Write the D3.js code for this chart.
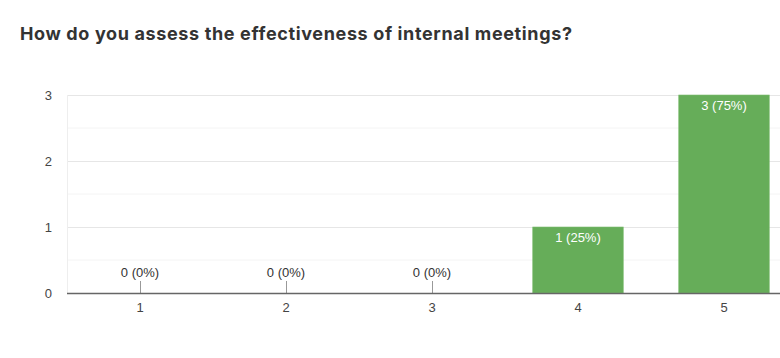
<!DOCTYPE html>
<html><head><meta charset="utf-8">
<script src="https://cdn.jsdelivr.net/npm/d3@7"></script>
<style>body{margin:0;background:#fff;}svg{display:block;}</style>
</head><body>
<svg id="c" width="780" height="358"></svg>
<script>
const categories = ["1","2","3","4","5"];
const counts = [0,0,0,1,3];
const labels = ["0 (0%)","0 (0%)","0 (0%)","1 (25%)","3 (75%)"];
const yTicks = [0,1,2,3];
const title = "How do you assess the effectiveness of internal meetings?";

const svg = d3.select("#c");
const m = {l:67, r:797, t:95, b:293};
const x = d3.scaleBand().domain(categories).range([m.l, m.r]).paddingInner(0.38).paddingOuter(0.19);
const y = d3.scaleLinear().domain([0,3]).range([m.b, m.t]);
const F = "'Liberation Sans', Arial, sans-serif";

svg.append("text").attr("x",20).attr("y",40).text(title)
  .attr("font-family","Inter, 'Open Sans', sans-serif").attr("font-weight",700)
  .attr("font-size",18).attr("fill","#333")
  .attr("textLength",552).attr("lengthAdjust","spacing");

// minor gridlines
svg.append("g").selectAll("line").data(d3.range(0.5,3,1)).join("line")
  .attr("x1",m.l).attr("x2",780).attr("y1",d=>y(d)).attr("y2",d=>y(d))
  .attr("stroke","#f4f4f4").attr("stroke-width",1);
// major gridlines
svg.append("g").selectAll("line").data(yTicks.slice(1)).join("line")
  .attr("x1",m.l).attr("x2",780).attr("y1",d=>Math.round(y(d))+0.5).attr("y2",d=>Math.round(y(d))+0.5)
  .attr("stroke","#e6e6e6").attr("stroke-width",1);
svg.append("line").attr("x1",m.l+0.5).attr("x2",m.l+0.5).attr("y1",m.t).attr("y2",m.b)
  .attr("stroke","#eeeeee");

// y labels
const ya = svg.append("g").attr("transform",`translate(${m.l},0)`)
  .call(d3.axisLeft(y).tickValues(yTicks).tickFormat(d3.format("d")).tickSize(0).tickPadding(15));
ya.select(".domain").remove();
ya.selectAll("text").attr("font-family",F).attr("font-size",13).attr("fill","#444");

// bars
svg.append("g").selectAll("rect").data(counts).join("rect")
  .attr("x",(d,i)=>x(categories[i])).attr("width",x.bandwidth())
  .attr("y",d=>y(d)).attr("height",d=>y(0)-y(d))
  .attr("fill","#66ad59").attr("stroke","#7dbd70").attr("stroke-width",0.6);

// zero stems
svg.append("g").selectAll("line").data(counts.map((d,i)=>({d,i})).filter(o=>o.d===0)).join("line")
  .attr("x1",o=>x(categories[o.i])+x.bandwidth()/2+0.5).attr("x2",o=>x(categories[o.i])+x.bandwidth()/2+0.5)
  .attr("y1",281).attr("y2",y(0)).attr("stroke","#999").attr("stroke-width",1);

// labels
svg.append("g").selectAll("text").data(counts).join("text")
  .attr("x",(d,i)=>x(categories[i])+x.bandwidth()/2)
  .attr("y",d=> d===0 ? y(0)-16 : y(d)+15)
  .attr("text-anchor","middle")
  .attr("font-family",F).attr("font-size",13)
  .attr("fill",d=> d===0 ? "#333" : "#fff")
  .text((d,i)=>labels[i]);

// x axis
const xa = svg.append("g").attr("transform",`translate(0,${y(0)})`)
  .call(d3.axisBottom(x).tickSize(0).tickPadding(10));
xa.select(".domain").remove();
xa.selectAll("text").attr("font-family",F).attr("font-size",13).attr("fill","#444");
svg.append("line").attr("x1",m.l).attr("x2",780).attr("y1",y(0)+0.5).attr("y2",y(0)+0.5)
  .attr("stroke","#666").attr("stroke-width",1.6);
</script>
</body></html>
